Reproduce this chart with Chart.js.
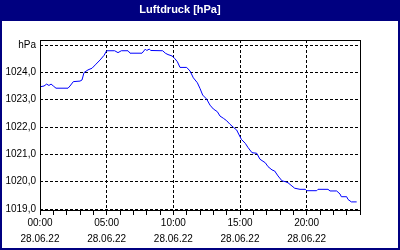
<!DOCTYPE html>
<html>
<head>
<meta charset="utf-8">
<title>Luftdruck</title>
<script src="https://cdn.jsdelivr.net/npm/chart.js@4.4.0/dist/chart.umd.min.js"></script>
<style>
  html, body { margin: 0; padding: 0; background: #fff; }
  #chart { display: block; }
</style>
</head>
<body>
<canvas id="chart" width="400" height="250"></canvas>
<script>
// time of day in hours, 28.06.22
const hours = [
  0.0, 0.3, 0.5, 0.67, 0.83, 1.0, 1.2, 2.1, 2.25, 2.5,
  3.0, 3.15, 3.3, 3.6, 3.9, 4.2, 4.5, 4.8, 5.0, 5.6,
  5.85, 6.1, 6.6, 6.75, 7.65, 7.9, 8.0, 8.2, 8.3, 9.2,
  9.4, 9.6, 9.9, 10.1, 10.3, 10.5, 11.0, 11.25, 11.5, 11.8,
  12.0, 12.2, 12.5, 12.75, 13.0, 13.3, 13.5, 13.75, 14.0, 14.25,
  14.5, 14.75, 15.1, 15.4, 15.6, 15.9, 16.25, 16.5, 16.9, 17.1,
  17.4, 17.6, 17.85, 18.15, 18.4, 18.6, 18.9, 19.1, 19.5, 19.9,
  20.0, 20.75, 20.85, 21.6, 21.75, 22.25, 22.5, 22.6, 23.0, 23.1,
  23.35, 23.75
];
// pressure in hPa
const pressure = [
  1023.47, 1023.50, 1023.57, 1023.52, 1023.57, 1023.50, 1023.42, 1023.42, 1023.50, 1023.66,
  1023.68, 1023.72, 1023.99, 1024.09, 1024.15, 1024.30, 1024.45, 1024.62, 1024.79, 1024.79,
  1024.72, 1024.79, 1024.79, 1024.70, 1024.70, 1024.85, 1024.80, 1024.85, 1024.80, 1024.79,
  1024.70, 1024.65, 1024.60, 1024.51, 1024.39, 1024.18, 1024.18, 1024.05, 1023.80, 1023.62,
  1023.41, 1023.17, 1023.02, 1022.80, 1022.66, 1022.56, 1022.40, 1022.32, 1022.23, 1022.10,
  1021.99, 1021.89, 1021.55, 1021.40, 1021.25, 1021.06, 1021.04, 1020.82, 1020.69, 1020.55,
  1020.43, 1020.39, 1020.21, 1020.03, 1020.00, 1019.96, 1019.84, 1019.76, 1019.72, 1019.72,
  1019.67, 1019.67, 1019.72, 1019.72, 1019.66, 1019.66, 1019.55, 1019.45, 1019.45, 1019.35,
  1019.26, 1019.26
];

const hourTicks = [0, 1, 2, 3, 4, 5, 6, 7, 8, 9, 10, 11, 12, 13, 14, 15, 16, 17, 18, 19, 20, 21, 22, 23, 24];
const timeLabels = ['00:00', '05:00', '10:00', '15:00', '20:00'];
const dateLabel = '28.06.22';
const yTicks = [1019, 1020, 1021, 1022, 1023, 1024, 1025];
const unitLabel = 'hPa';

const NAVY = '#000080';

// navy title band + border, black frame around the plot
const framePlugin = {
  id: 'frame',
  beforeDraw(chart) {
    const { ctx, width, height } = chart;
    ctx.save();
    ctx.fillStyle = '#fff';
    ctx.fillRect(0, 0, width, height);
    ctx.fillStyle = NAVY;
    ctx.fillRect(0, 0, width, 21);
    ctx.fillRect(0, 0, 2, height);
    ctx.fillRect(width - 2, 0, 2, height);
    ctx.fillRect(0, height - 2, width, 2);
    ctx.restore();
  },
  afterDraw(chart) {
    const { ctx, chartArea: a } = chart;
    ctx.save();
    ctx.strokeStyle = '#000';
    ctx.lineWidth = 1;
    ctx.strokeRect(a.left + 0.5, a.top + 0.5, a.right - a.left, a.bottom - a.top - 1);
    ctx.restore();
  }
};

Chart.defaults.font.family = '"Liberation Sans", Arial, sans-serif';
Chart.defaults.font.size = 10;
Chart.defaults.color = '#000';

new Chart(document.getElementById('chart'), {
  type: 'line',
  data: {
    datasets: [{
      data: hours.map((h, i) => ({ x: h, y: pressure[i] })),
      borderColor: '#0000ff',
      borderWidth: 1,
      pointRadius: 0,
      tension: 0,
      fill: false
    }]
  },
  options: {
    responsive: false,
    animation: false,
    events: [],
    layout: { padding: { left: 0, right: 40, top: 0, bottom: 0 } },
    plugins: {
      legend: { display: false },
      tooltip: { enabled: false },
      title: {
        display: true,
        text: 'Luftdruck [hPa]',
        color: '#fff',
        font: { family: '"Liberation Sans", Arial, sans-serif', size: 11, weight: 'bold', lineHeight: 1.2 },
        padding: { top: 3, bottom: 23.8 }
      }
    },
    scales: {
      x: {
        type: 'linear',
        min: 0,
        max: 24,
        afterFit: axis => { axis.height = 39; },
        afterBuildTicks: axis => { axis.ticks = hourTicks.map(v => ({ value: v })); },
        border: { display: false, dash: [3, 2] },
        grid: {
          color: c => (c.tick && c.tick.value % 5 === 0 && c.tick.value > 0 && c.tick.value < 24) ? '#000' : 'rgba(0,0,0,0)',
          tickColor: '#000',
          tickLength: 4,
          tickBorderDash: [],
          lineWidth: 1
        },
        ticks: {
          autoSkip: false,
          maxRotation: 0,
          padding: 0,
          font: { size: 10, lineHeight: 1.6 },
          callback: v => (v % 5 === 0 && v < 24) ? [timeLabels[v / 5], dateLabel] : ''
        }
      },
      y: {
        min: 1018.927,
        max: 1025.183,
        afterFit: axis => { axis.width = 40; },
        afterBuildTicks: axis => { axis.ticks = yTicks.map(v => ({ value: v })); },
        border: { display: false, dash: [3, 2] },
        grid: {
          color: '#000',
          lineWidth: 1,
          drawTicks: false
        },
        ticks: {
          padding: 4,
          callback: v => v === 1025 ? unitLabel : v.toFixed(1).replace('.', ',')
        }
      }
    }
  },
  plugins: [framePlugin]
});
</script>
</body>
</html>
